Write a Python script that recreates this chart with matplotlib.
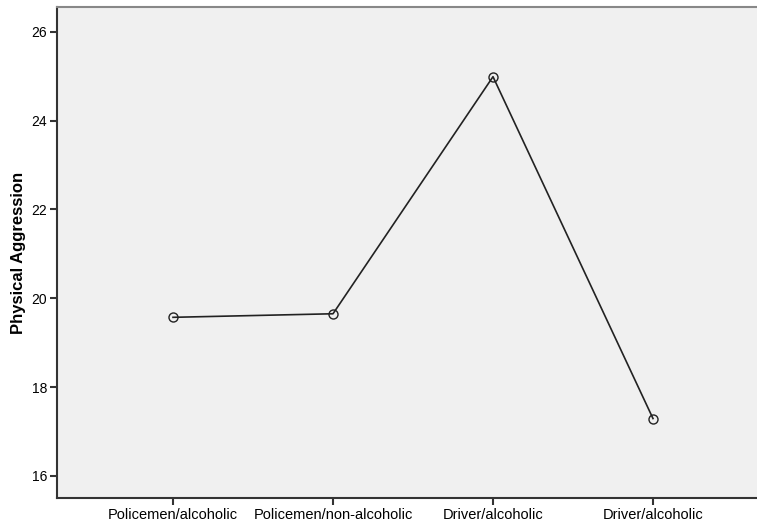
import matplotlib.pyplot as plt

groups = ["Policemen/alcoholic", "Policemen/non-alcoholic", "Driver/alcoholic", "Driver/alcoholic"]
means = [19.57, 19.65, 24.99, 17.29]
y_ticks = [16, 18, 20, 22, 24, 26]

plt.rcParams["font.family"] = ["Liberation Sans", "DejaVu Sans"]

fig = plt.figure(figsize=(7.57, 5.30), dpi=100)
ax = fig.add_axes([57 / 757, 32 / 530, 712 / 757, 491 / 530])
ax.set_facecolor("#f0f0f0")

x = list(range(len(groups)))
ax.plot(x, means, color="#222222", lw=1.2, marker="o", ms=6.5,
        mfc="none", mec="#222222", mew=1.0)

ax.set_xlim(-0.725, 3.725)
ax.set_ylim(15.5, 26.56)
ax.set_xticks(x)
ax.set_xticklabels(groups, fontsize=10.5)
ax.set_yticks(y_ticks)
ax.set_yticklabels([str(v) for v in y_ticks], fontsize=10)
ax.tick_params(direction="out", length=5, width=1.5, color="#333333", pad=2)
ax.set_ylabel("Physical Aggression", fontsize=12, fontweight="bold", labelpad=4)

for side in ["left", "bottom"]:
    ax.spines[side].set_color("#333333")
    ax.spines[side].set_linewidth(1.5)
for side in ["top", "right"]:
    ax.spines[side].set_color("#888888")
    ax.spines[side].set_linewidth(1.5)

fig.savefig("out.png", dpi=100)
